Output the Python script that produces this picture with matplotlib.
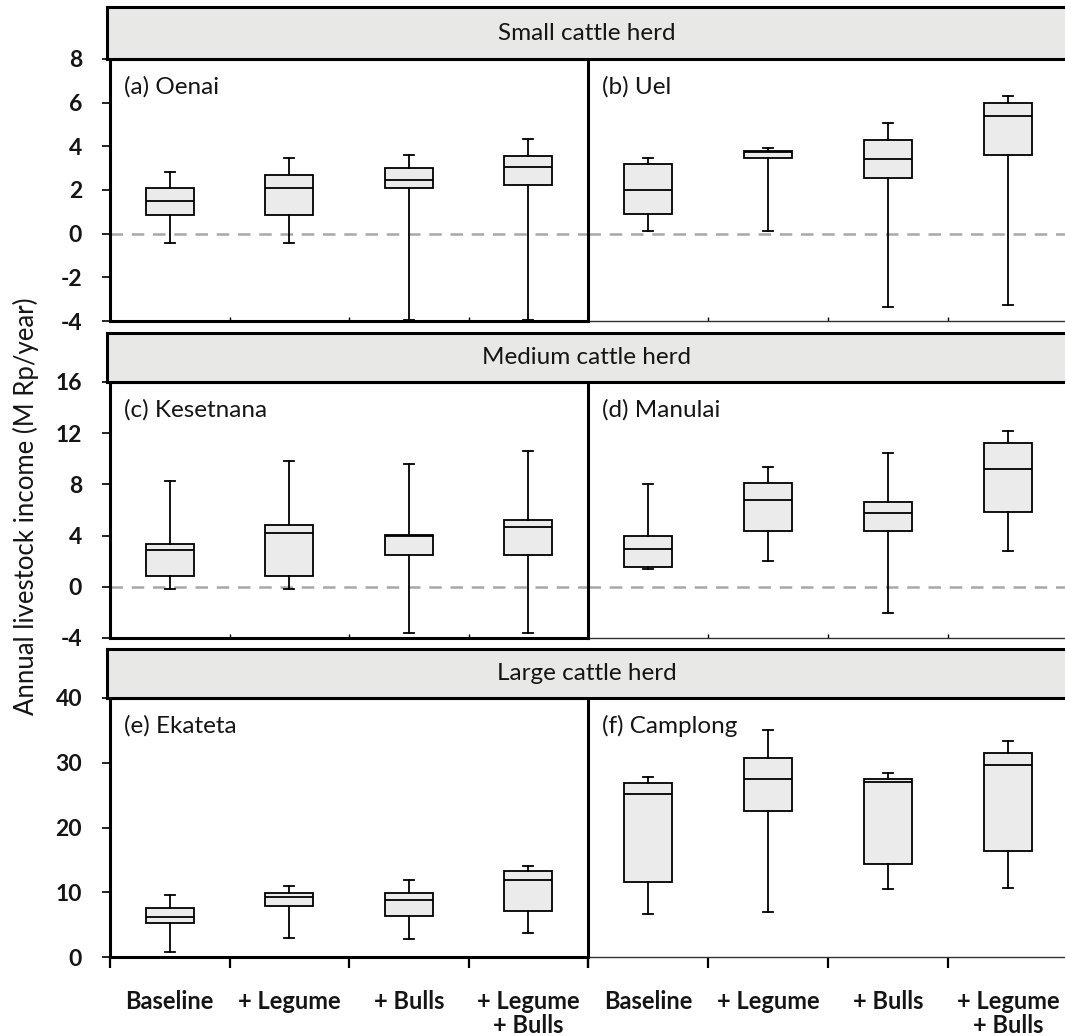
import matplotlib
matplotlib.use("Agg")
import matplotlib.pyplot as plt

plt.rcParams['font.family'] = ['Lato', 'DejaVu Sans']

# ---------------- data ----------------
categories = ["Baseline", "+ Legume", "+ Bulls", "+ Legume\n+ Bulls"]

oenai_low  = [-0.43, -0.43, -3.95, -3.95]
oenai_q1   = [0.85, 0.85, 2.08, 2.21]
oenai_med  = [1.48, 2.08, 2.46, 3.05]
oenai_q3   = [2.08, 2.69, 2.99, 3.54]
oenai_high = [2.81, 3.48, 3.60, 4.34]

uel_low  = [0.14, 0.14, -3.35, -3.28]
uel_q1   = [0.91, 3.48, 2.56, 3.60]
uel_med  = [2.01, 3.73, 3.42, 5.37]
uel_q3   = [3.17, 3.79, 4.28, 5.98]
uel_high = [3.48, 3.91, 5.07, 6.29]

kesetnana_low  = [-0.18, -0.18, -3.64, -3.64]
kesetnana_q1   = [0.81, 0.81, 2.48, 2.48]
kesetnana_med  = [2.84, 4.20, 3.97, 4.70]
kesetnana_q3   = [3.34, 4.80, 4.07, 5.22]
kesetnana_high = [8.23, 9.80, 9.59, 10.63]

manulai_low  = [1.36, 1.99, -2.08, 2.82]
manulai_q1   = [1.57, 4.38, 4.38, 5.84]
manulai_med  = [2.92, 6.78, 5.73, 9.17]
manulai_q3   = [3.94, 8.13, 6.65, 11.23]
manulai_high = [8.03, 9.38, 10.42, 12.20]

ekateta_low  = [0.71, 2.98, 2.83, 3.65]
ekateta_q1   = [5.19, 7.92, 6.33, 7.10]
ekateta_med  = [6.11, 9.26, 8.73, 11.93]
ekateta_q3   = [7.56, 9.82, 9.82, 13.32]
ekateta_high = [9.57, 11.00, 11.88, 14.09]

camplong_low  = [6.68, 6.88, 10.43, 10.59]
camplong_q1   = [11.62, 22.53, 14.29, 16.36]
camplong_med  = [25.25, 27.52, 26.95, 29.72]
camplong_q3   = [26.85, 30.76, 27.52, 31.57]
camplong_high = [27.87, 35.08, 28.49, 33.43]

row_titles = ["Small cattle herd", "Medium cattle herd", "Large cattle herd"]
panel_titles = ["(a) Oenai", "(b) Uel", "(c) Kesetnana", "(d) Manulai",
                "(e) Ekateta", "(f) Camplong"]
row_ylims = [(-4, 8), (-4, 16), (0, 40)]
row_yticks = [[-4, -2, 0, 2, 4, 6, 8], [-4, 0, 4, 8, 12, 16], [0, 10, 20, 30, 40]]
ylabel = "Annual livestock income (M Rp/year)"

panels = [
    (oenai_low, oenai_q1, oenai_med, oenai_q3, oenai_high),
    (uel_low, uel_q1, uel_med, uel_q3, uel_high),
    (kesetnana_low, kesetnana_q1, kesetnana_med, kesetnana_q3, kesetnana_high),
    (manulai_low, manulai_q1, manulai_med, manulai_q3, manulai_high),
    (ekateta_low, ekateta_q1, ekateta_med, ekateta_q3, ekateta_high),
    (camplong_low, camplong_q1, camplong_med, camplong_q3, camplong_high),
]

# ---------------- layout (pixels) ----------------
W, H = 1065, 1036
fig = plt.figure(figsize=(W / 100, H / 100), dpi=100)
fig.patch.set_facecolor("white")


def rect(x0, y0, x1, y1):
    return [x0 / W, 1 - y1 / H, (x1 - x0) / W, (y1 - y0) / H]


rows_px = [(7, 59, 321), (333, 382, 638), (649, 698, 957)]
LX0, MX, RX1 = 110, 588, 1068

BOX_FILL = "#ebebeb"
HEAD_FILL = "#e8e8e6"
TXT = "#151515"
LW = 1.3

for r, (htop, atop, abot) in enumerate(rows_px):
    last = (r == 2)
    # right panel first, then left panel (left panel's spine drawn on top)
    for c, (x0, x1) in [(1, (MX, RX1)), (0, (LX0, MX))]:
        ax = fig.add_axes(rect(x0, atop, x1, abot))
        idx = r * 2 + c
        low, q1, med, q3, high = panels[idx]
        stats = []
        for i in range(len(categories)):
            stats.append(dict(whislo=low[i], q1=q1[i], med=med[i],
                              q3=q3[i], whishi=high[i], fliers=[]))
        if not last:
            ax.axhline(0, color="#a8a8a8", lw=1.8, ls=(0, (5, 3.5)), zorder=1)
        ax.bxp(stats, positions=[0.5, 1.5, 2.5, 3.5], widths=0.4,
               capwidths=0.08, patch_artist=True, showfliers=False,
               manage_ticks=False,
               boxprops=dict(facecolor=BOX_FILL, edgecolor="black", linewidth=LW),
               medianprops=dict(color="black", linewidth=LW),
               whiskerprops=dict(color="black", linewidth=LW),
               capprops=dict(color="black", linewidth=LW),
               zorder=3)
        ax.set_xlim(0, 4)
        ax.set_ylim(*row_ylims[r])
        ax.set_xticks([0, 1, 2, 3, 4])
        ax.set_xticklabels([])
        if last:
            ax.set_xticks([0.5, 1.5, 2.5, 3.5], minor=True)
            ax.set_xticklabels(categories, minor=True, fontsize=17,
                               fontweight="bold", linespacing=1.05, color=TXT)
            ax.tick_params(axis="x", which="minor", length=0, pad=24)
            ax.tick_params(axis="x", which="major", length=8, width=1.6,
                           direction="out")
        else:
            ax.tick_params(axis="x", which="major", length=3, width=1,
                           direction="in")
        if c == 0:
            ax.set_yticks(row_yticks[r])
            ax.set_yticklabels([str(v) for v in row_yticks[r]], fontsize=16.5,
                               fontweight="bold", color=TXT)
            ax.tick_params(axis="y", length=6, width=1.2, pad=14,
                           direction="out")
            for s in ax.spines.values():
                s.set_linewidth(2.2)
                s.set_color("black")
        else:
            ax.set_yticks([])
            for k in ["left", "top", "right"]:
                ax.spines[k].set_visible(False)
            ax.spines["bottom"].set_linewidth(1.0)
            ax.spines["bottom"].set_color("#333333")
        ax.annotate(panel_titles[idx], xy=(0, 1), xycoords="axes fraction",
                    xytext=(14, -28), textcoords="offset pixels",
                    ha="left", va="center", fontsize=17.5, color=TXT)

    # header strip
    hax = fig.add_axes(rect(107, htop, 1075, atop))
    hax.set_facecolor(HEAD_FILL)
    hax.set_xticks([])
    hax.set_yticks([])
    for s in hax.spines.values():
        s.set_linewidth(2.2)
        s.set_color("black")
    fig.text((107 + 1066) / 2 / W, 1 - (htop + atop) / 2 / H, row_titles[r],
             ha="center", va="center", fontsize=17.5, color=TXT)

fig.text(26 / W, 1 - 506 / H, ylabel, rotation=90, ha="center", va="center",
         fontsize=18.5, color=TXT)

fig.savefig("out.png", dpi=100, facecolor="white")
